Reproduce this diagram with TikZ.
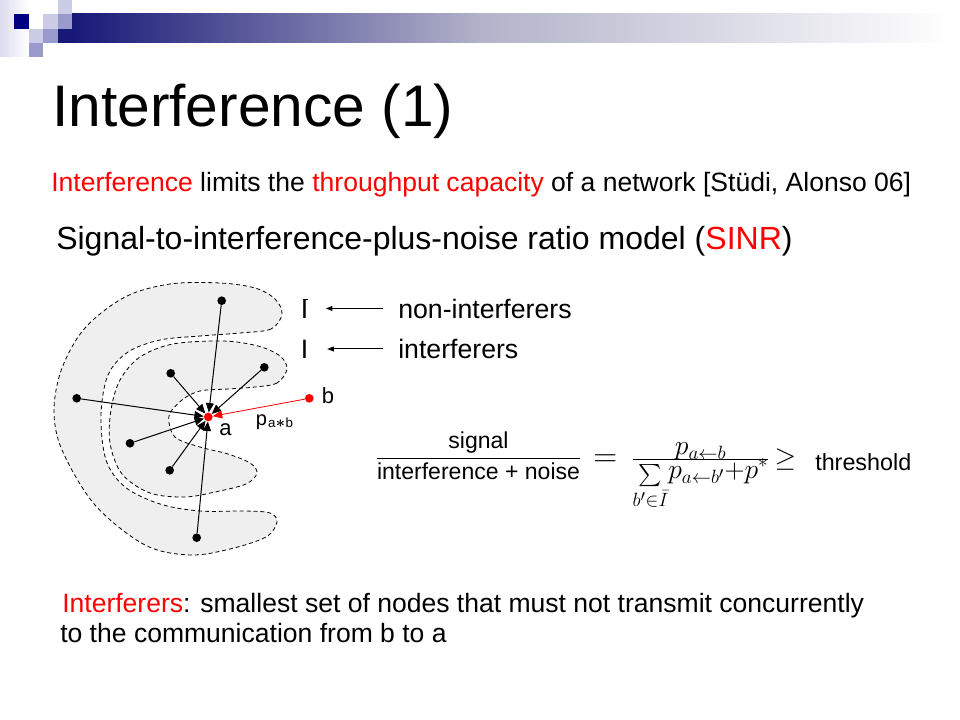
\documentclass[tikz,border=0pt]{standalone}
\usepackage{amsmath}
\usepackage{amssymb}
\usepackage{graphicx}
\usepackage{fontspec}
\setmainfont{Liberation Sans}
\usepackage{xcolor}
\usetikzlibrary{arrows.meta}

\definecolor{slidered}{RGB}{255,0,0}
\definecolor{navy}{RGB}{24,24,120}

\begin{document}
\begin{tikzpicture}[x=0.75pt,y=0.75pt,yscale=-1,xscale=1,
    dot/.style={circle,fill=black,inner sep=0pt,minimum size=6.5pt},
    reddot/.style={dot,fill=slidered},
    link/.style={line width=0.75pt,-{Triangle[length=7pt,width=6pt]}},
    redlink/.style={link,line width=0.6pt,color=slidered},
    region/.style={line width=0.6pt,dash pattern=on 3pt off 2.2pt,fill={rgb, 255:red, 239; green, 239; blue, 239 }},
    legend/.style={line width=0.75pt,-{Triangle[length=5pt,width=3.6pt]}},
    txt/.style={anchor=base west,inner sep=0pt}
  ]
%uncomment if require: \path (0,720); %set diagram left start at 0, and has height of 720
\useasboundingbox (0,0) rectangle (960,720);
\fill [white] (0,0) rectangle (960,720);

%Shape: Rectangle (title bar)
\shade [left color={rgb, 255:red, 220; green, 220; blue, 238 }, right color=white] (0,0) rectangle (28,57);
\shade [left color=navy, right color={rgb, 255:red, 178; green, 178; blue, 202 }] (72,14) rectangle (480,43);
\shade [left color={rgb, 255:red, 178; green, 178; blue, 202 }, right color=white] (479.5,14) rectangle (950,43);
\fill [navy] (58,29) rectangle (72.5,43);
%Shape: Square
\fill [color={rgb, 255:red, 0; green, 0; blue, 128 }] (14,14) rectangle (29,29);
\fill [color={rgb, 255:red, 204; green, 204; blue, 230 }] (29,29) rectangle (43,43);
\fill [color={rgb, 255:red, 204; green, 204; blue, 230 }] (43,14) rectangle (58,29);
\fill [color={rgb, 255:red, 204; green, 204; blue, 230 }] (58,0) rectangle (72,14);
\fill [color={rgb, 255:red, 153; green, 153; blue, 204 }] (43,29) rectangle (58,43);
\fill [color={rgb, 255:red, 153; green, 153; blue, 204 }] (58,14) rectangle (72,29);
\fill [color={rgb, 255:red, 153; green, 153; blue, 204 }] (29,43) rectangle (43,57);

% Text Node
\draw (52,127) node (title) [txt,font=\fontsize{44}{50}\selectfont] {Interference (1)};
% Text Node
\draw (51,191.7) node (claim) [txt,font=\fontsize{19.9}{24}\selectfont] {\textcolor{slidered}{Interference} limits the \textcolor{slidered}{throughput capacity} of a network [Stüdi, Alonso 06]};
% Text Node
\draw (56,249.5) node (model) [txt,font=\fontsize{24}{28}\selectfont] {Signal-to-interference-plus-noise ratio model (\textcolor{slidered}{SINR})};

%Shape: Free Form (non-interferers)
\draw [region] plot [smooth cycle, tension=0.55] coordinates {(282,314) (271,329) (240,333) (200,336) (160,340) (128,352) (108,375) (101,415) (106,460) (125,487) (160,504) (200,511) (245,511) (270,513) (277,522) (266,537) (230,549) (190,555) (145,545) (95,505) (62,450) (54,410) (62,368) (85,328) (125,297) (170,284) (220,283) (255,288) (275,299)};
%Shape: Free Form (interferers)
\draw [region] plot [smooth cycle, tension=0.55] coordinates {(287,369) (277,383) (255,387) (228,389) (200,391) (182,400) (169,416) (175,437) (200,447) (228,454) (250,463) (257,473) (246,484) (215,492) (185,497) (150,493) (122,474) (110,443) (111,410) (120,380) (140,357) (173,344) (223,341) (258,346) (280,356)};

% Nodes
\draw (208.3,417) node (a) [reddot] {};
\draw (309.3,398.3) node (b) [reddot] {};
\draw (221.7,300.7) node (far1) [dot] {};
\draw (76.7,398.3) node (far2) [dot] {};
\draw (196.7,537.7) node (far3) [dot] {};
\draw (264.3,367.3) node (near1) [dot] {};
\draw (170.7,373.3) node (near2) [dot] {};
\draw (130,443.3) node (near3) [dot] {};
\draw (169.7,470.3) node (near4) [dot] {};

%Straight Lines
\foreach \n in {far1,far2,far3,near1,near2,near3,near4}
  \draw [link] (\n) -- (a);
\draw [redlink] (b) -- (a);

% Text Node
\draw (321.5,403.3) node (blabel) [txt,font=\fontsize{16.5}{20}\selectfont] {b};
\draw (219,435) node (alabel) [txt,font=\fontsize{16.5}{20}\selectfont] {a};
\draw (255.7,425) node (plabel) [txt,font=\fontsize{15}{18}\selectfont] {p\kern0.05em\raisebox{-2.2pt}{\fontsize{10}{12}\selectfont a\kern0.03em{\fontsize{13}{14}\selectfont$\boldsymbol{\ast}$}\kern0.03em b}};

% Text Node
\draw (300.5,318) node (ibar) [txt,font=\fontsize{20}{24}\selectfont] {I\kern-0.184em\rule[0.68em]{0.16em}{0.04em}};
\draw (300.5,358.5) node (iset) [txt,font=\fontsize{20}{24}\selectfont] {I};
\draw (398,318) node (nonint) [txt,font=\fontsize{20}{24}\selectfont] {non-interferers};
\draw (398,358.5) node (inter) [txt,font=\fontsize{20}{24}\selectfont] {interferers};
%Straight Lines
\draw [legend,shorten <=11pt,shorten >=13.5pt] (nonint.west) -- (nonint.west -| ibar.east);
\draw [legend,shorten <=11pt,shorten >=14pt] (inter.west) -- (inter.west -| iset.east);

% Text Node
\draw (478.5,464) node (ratio) [anchor=base,inner sep=0pt,font=\fontsize{17.28}{21}\selectfont] {$\dfrac{\text{signal}}{\text{interference + noise}}$};
\draw (593.1,466.5) node (sinr) [txt,font=\fontsize{20.74}{25}\selectfont] {$\text{\fontsize{24.88}{30}\selectfont$=$}\mkern9mu\dfrac{\smash{\raisebox{-5.3pt}{$p_{a\leftarrow b}$}}}{\smash{\raisebox{5pt}{$\displaystyle\mathop{\raisebox{-2.5pt}{$\vcenter{\hbox{\scalebox{0.8}{$\textstyle\sum$}}}$}}\limits_{b'\in\bar{I}}\mkern-3mu p_{a\leftarrow b'}{+}p^*$}}}\mkern-2mu\geq$};
\draw (815,470) node (thresh) [txt,font=\fontsize{17.5}{21}\selectfont] {threshold};

% Text Node
\draw (62,612) node (defn) [txt,font=\fontsize{19.9}{24}\selectfont] {\textcolor{slidered}{Interferers}: smallest set of nodes that must not transmit concurrently};
\draw (60,642) node (defn2) [txt,font=\fontsize{19.9}{24}\selectfont] {to the communication from b to a};

\end{tikzpicture}
\end{document}
